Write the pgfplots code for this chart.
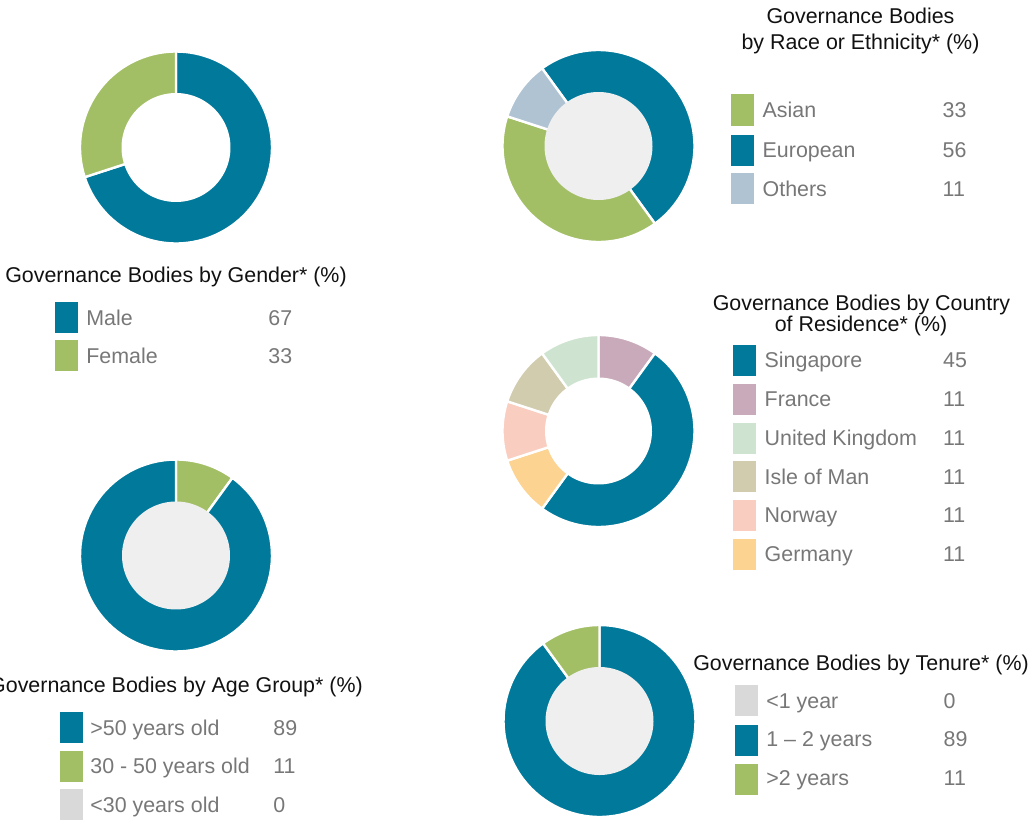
\documentclass[border=0pt]{standalone}
\usepackage{pgfplots}
\pgfplotsset{compat=1.18}
\usepackage{fontspec}
\setmainfont{Liberation Sans}
\definecolor{teal}{HTML}{00799B}
\definecolor{grn}{HTML}{A2BF65}
\definecolor{othblue}{HTML}{AFC3D3}
\definecolor{pinkc}{HTML}{C9AABA}
\definecolor{mint}{HTML}{CEE4D0}
\definecolor{khaki}{HTML}{D2CCAE}
\definecolor{peach}{HTML}{F9CEC0}
\definecolor{orangec}{HTML}{FCD390}
\definecolor{lgrey}{HTML}{D9D9D9}
\definecolor{inner}{HTML}{EFEFEF}
\definecolor{lgtext}{HTML}{777777}
\definecolor{ttext}{HTML}{111111}
% segment: cx, cy, start angle, end angle (clockwise from top), colour
\newcommand{\dseg}[5]{\addplot[fill=#5, draw=white, line width=1.2pt, line join=round, domain=#3:#4, samples=90, variable=\t] ({#1+96*sin(\t)},{#2+96*cos(\t)}) -- (axis cs:#1,#2) -- cycle;}
% hole: cx, cy, radius, colour
\newcommand{\dhole}[4]{\addplot[fill=#4, draw=none, domain=0:360, samples=180, variable=\t] ({#1+#3*sin(\t)},{#2+#3*cos(\t)}) -- cycle;}
% legend row: sqx, sqtop, colour, textx, baseline, label, valx, value
\newcommand{\lgrow}[8]{\fill[#3] (axis cs:#1,-#2) rectangle (axis cs:#1+23,-#2-31);
 \node[anchor=base west, inner sep=0pt, text=lgtext, font=\fontsize{10.7}{12.8}\selectfont] at (axis cs:#4,-#5) {#6};
 \node[anchor=base west, inner sep=0pt, text=lgtext, font=\fontsize{10.7}{12.8}\selectfont] at (axis cs:#7,-#5) {#8};}
\newcommand{\dtitle}[3]{\node[anchor=base, inner sep=0pt, text=ttext, font=\fontsize{10.7}{12.8}\selectfont] at (axis cs:#1,-#2) {#3};}
\begin{document}
\begin{tikzpicture}
\begin{axis}[hide axis, scale only axis, width=516.5pt, height=410.5pt,
  xmin=0, xmax=1033, ymin=-821, ymax=0, clip=false]
% ---- Gender (drawn shares 70 / 30) ----
\dseg{176}{-147.5}{0}{252}{teal}
\dseg{176}{-147.5}{252}{360}{grn}
\dhole{176}{-147.5}{54.5}{white}
% ---- Age group (drawn shares 10 / 90) ----
\dseg{176}{-555.5}{0}{36}{grn}
\dseg{176}{-555.5}{36}{360}{teal}
\dhole{176}{-555.5}{54}{inner}
% ---- Race (drawn shares 50 / 40 / 10) ----
\dseg{598.5}{-146}{-36}{144}{teal}
\dseg{598.5}{-146}{144}{288}{grn}
\dseg{598.5}{-146}{288}{324}{othblue}
\dhole{598.5}{-146}{54}{inner}
% ---- Country (drawn shares 10 / 50 / 10 / 10 / 10 / 10) ----
\dseg{598.5}{-431}{0}{36}{pinkc}
\dseg{598.5}{-431}{36}{216}{teal}
\dseg{598.5}{-431}{216}{252}{orangec}
\dseg{598.5}{-431}{252}{288}{peach}
\dseg{598.5}{-431}{288}{324}{khaki}
\dseg{598.5}{-431}{324}{360}{mint}
\dhole{598.5}{-431}{53.5}{white}
% ---- Tenure (drawn shares 90 / 10) ----
\dseg{599.5}{-721}{0}{324}{teal}
\dseg{599.5}{-721}{324}{360}{grn}
\dhole{599.5}{-721}{54}{inner}
% ---- Titles ----
\dtitle{176}{282}{Governance Bodies by Gender* (\%)}
\dtitle{176}{692}{Governance Bodies by Age Group* (\%)}
\dtitle{860.5}{23.3}{Governance Bodies}
\dtitle{860.5}{50}{by Race or Ethnicity* (\%)}
\dtitle{861.5}{310}{Governance Bodies by Country}
\dtitle{861}{331.7}{of Residence* (\%)}
\dtitle{861}{670}{Governance Bodies by Tenure* (\%)}
% ---- Legends ----
\lgrow{55}{301.5}{teal}{86}{325}{Male}{268}{67}
\lgrow{55}{340}{grn}{86}{363}{Female}{268}{33}
\lgrow{60}{712}{teal}{90}{735}{>50 years old}{273}{89}
\lgrow{60}{750.5}{grn}{90}{773.5}{30 - 50 years old}{273}{11}
\lgrow{60}{789}{lgrey}{90}{812}{<30 years old}{273}{0}
\lgrow{731}{94.5}{grn}{762.3}{117.5}{Asian}{942.3}{33}
\lgrow{731}{134.5}{teal}{762.3}{157.5}{European}{942.3}{56}
\lgrow{731}{173}{othblue}{762.3}{196.5}{Others}{942.3}{11}
\lgrow{733}{345}{teal}{764.3}{367.7}{Singapore}{942.7}{45}
\lgrow{733}{384}{pinkc}{764.3}{406.5}{France}{942.7}{11}
\lgrow{733}{422.5}{mint}{764.3}{445.3}{United Kingdom}{942.7}{11}
\lgrow{733}{461}{khaki}{764.3}{484.1}{Isle of Man}{942.7}{11}
\lgrow{733}{500}{peach}{764.3}{522.9}{Norway}{942.7}{11}
\lgrow{733}{538.5}{orangec}{764.3}{561.7}{Germany}{942.7}{11}
\lgrow{735}{684.5}{lgrey}{766}{708.3}{<1 year}{943.3}{0}
\lgrow{735}{725}{teal}{766}{746.7}{1 -- 2 years}{943.3}{89}
\lgrow{735}{764}{grn}{766}{785.7}{>2 years}{943.3}{11}
\end{axis}
\pgfresetboundingbox
\useasboundingbox (current axis.south west) rectangle (current axis.north east);
\end{tikzpicture}
\end{document}
